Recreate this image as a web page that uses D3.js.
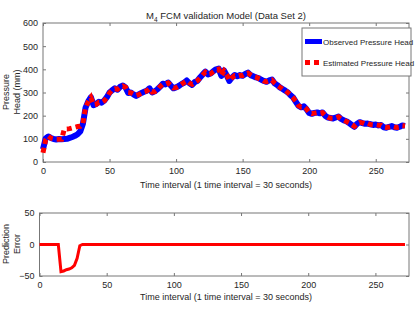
<!DOCTYPE html>
<html lang="en">
<head>
    <meta charset="UTF-8">
    <title>M4 FCM validation Model</title>
    <style>
        body { margin: 0; background: #fff; }
        svg text { font-family: 'Liberation Sans', Arial, sans-serif; fill: #262626; }
        .axis path { stroke: none; }
        .axis line { stroke: #777; }
        .axis text { font-size: 9px; fill: #262626; }
    </style>
</head>
<body>
<div id="chart"></div>
<script src="https://d3js.org/d3.v7.min.js"></script>
<script>
    // time steps (one sample every 2 intervals)
    const timeSteps = d3.range(0, 273, 2);

    // observed pressure head (mm)
    const observed = [
        55, 102, 110, 104, 99, 97, 99, 98, 99, 100,
        104, 108, 113, 120, 132, 165, 235, 262, 280, 245,
        250, 260, 256, 265, 280, 300, 310, 318, 312, 325,
        330, 322, 298, 300, 292, 285, 292, 298, 303, 308,
        318, 300, 305, 314, 325, 338, 335, 343, 330, 318,
        322, 328, 336, 342, 352, 340, 333, 345, 350, 365,
        378, 390, 378, 382, 392, 400, 403, 372, 395, 375,
        350, 365, 375, 370, 375, 372, 380, 386, 375, 370,
        365, 362, 355, 350, 346, 352, 356, 340, 332, 322,
        315, 308, 300, 288, 278, 260, 242, 236, 240, 228,
        212, 208, 212, 214, 210, 214, 200, 192, 190, 188,
        192, 196, 186, 180, 176, 168, 160, 152, 165, 172,
        168, 165, 166, 163, 160, 162, 158, 160, 150, 148,
        152, 155, 150, 148, 152, 158, 156
    ];

    // estimated pressure head (mm)
    const estimated = [
        40, 96, 112, 103, 100, 98, 98, 98, 142, 142,
        144, 147, 150, 153, 154, 167, 236, 260, 278, 247,
        249, 258, 257, 264, 279, 298, 311, 316, 314, 323,
        328, 323, 300, 299, 293, 287, 291, 297, 304, 307,
        316, 302, 304, 312, 326, 336, 336, 341, 331, 320,
        321, 327, 335, 343, 350, 341, 335, 344, 351, 363,
        376, 388, 379, 381, 390, 398, 401, 374, 393, 377,
        352, 364, 373, 371, 374, 373, 379, 384, 376, 369,
        366, 361, 356, 349, 347, 351, 354, 341, 331, 323,
        314, 309, 299, 289, 277, 262, 243, 237, 239, 229,
        213, 209, 211, 213, 211, 213, 201, 193, 189, 189,
        191, 195, 187, 181, 175, 169, 161, 154, 164, 171,
        169, 164, 167, 162, 161, 161, 159, 159, 151, 149,
        151, 154, 151, 149, 151, 157, 156
    ];

    // prediction error (observed - estimated)
    const predError = [
        0, 0, 0, 0, 0, 0, 0, 0, -43, -42,
        -40, -39, -37, -33, -22, -2, 0, 0, 0, 0,
        0, 0, 0, 0, 0, 0, 0, 0, 0, 0,
        0, 0, 0, 0, 0, 0, 0, 0, 0, 0,
        0, 0, 0, 0, 0, 0, 0, 0, 0, 0,
        0, 0, 0, 0, 0, 0, 0, 0, 0, 0,
        0, 0, 0, 0, 0, 0, 0, 0, 0, 0,
        0, 0, 0, 0, 0, 0, 0, 0, 0, 0,
        0, 0, 0, 0, 0, 0, 0, 0, 0, 0,
        0, 0, 0, 0, 0, 0, 0, 0, 0, 0,
        0, 0, 0, 0, 0, 0, 0, 0, 0, 0,
        0, 0, 0, 0, 0, 0, 0, 0, 0, 0,
        0, 0, 0, 0, 0, 0, 0, 0, 0, 0,
        0, 0, 0, 0, 0, 0, 0
    ];

    const xTicks = [0, 50, 100, 150, 200, 250];
    const topYTicks = [0, 100, 200, 300, 400, 500, 600];
    const bottomYTicks = [-50, 0, 50];
    const legendLabels = ["Observed Pressure Head", "Estimated Pressure Head"];

    const width = 415, height = 312;

    const svg = d3.select("#chart").append("svg")
        .attr("width", width)
        .attr("height", height);

    // top panel
    const x1 = d3.scaleLinear().domain([0, 275]).range([43, 409]);
    const y1 = d3.scaleLinear().domain([0, 600]).range([162, 23]);

    // bottom panel
    const x2 = d3.scaleLinear().domain([0, 275]).range([39.5, 409]);
    const y2 = d3.scaleLinear().domain([-50, 50]).range([276, 213]);

    function drawFrame(x, y, yTicks) {
        const [l, r] = x.range();
        const [b, t] = y.range();

        svg.append("g").attr("class", "axis")
            .attr("transform", `translate(0,${b})`)
            .call(d3.axisBottom(x).tickValues(xTicks).tickSize(-3).tickPadding(6));
        svg.append("g").attr("class", "axis")
            .attr("transform", `translate(0,${t})`)
            .call(d3.axisTop(x).tickValues(xTicks).tickSize(-3).tickFormat(""));
        svg.append("g").attr("class", "axis")
            .attr("transform", `translate(${l},0)`)
            .call(d3.axisLeft(y).tickValues(yTicks).tickSize(-3).tickPadding(5));
        svg.append("g").attr("class", "axis")
            .attr("transform", `translate(${r},0)`)
            .call(d3.axisRight(y).tickValues(yTicks).tickSize(-3).tickFormat(""));

        svg.append("rect")
            .attr("x", l).attr("y", t)
            .attr("width", r - l).attr("height", b - t)
            .attr("fill", "none")
            .attr("stroke", "#777")
            .attr("stroke-width", 1);
    }

    drawFrame(x1, y1, topYTicks);
    drawFrame(x2, y2, bottomYTicks);

    const line1 = d3.line()
        .x((d, i) => x1(timeSteps[i]))
        .y(d => y1(d));

    svg.append("path")
        .datum(observed)
        .attr("d", line1)
        .attr("fill", "none")
        .attr("stroke", "#0000ff")
        .attr("stroke-width", 6)
        .attr("stroke-linejoin", "round");

    svg.append("path")
        .datum(estimated)
        .attr("d", line1)
        .attr("fill", "none")
        .attr("stroke", "#ff0000")
        .attr("stroke-width", 5)
        .attr("stroke-dasharray", "5,4");

    const line2 = d3.line()
        .x((d, i) => x2(timeSteps[i]))
        .y(d => y2(d));

    svg.append("path")
        .datum(predError)
        .attr("d", line2)
        .attr("fill", "none")
        .attr("stroke", "#ff0000")
        .attr("stroke-width", 3);

    // title
    const title = svg.append("text")
        .attr("x", 226).attr("y", 19)
        .attr("text-anchor", "middle")
        .style("font-size", "9.5px");
    title.append("tspan").text("M");
    title.append("tspan").attr("dy", 3).style("font-size", "6.5px").text("4");
    title.append("tspan").attr("dy", -3).text(" FCM validation Model (Data Set 2)");

    // axis labels
    svg.append("text")
        .attr("x", 226).attr("y", 188)
        .attr("text-anchor", "middle")
        .style("font-size", "9px")
        .text("Time interval (1 time interval = 30 seconds)");
    svg.append("text")
        .attr("x", 226).attr("y", 300)
        .attr("text-anchor", "middle")
        .style("font-size", "9px")
        .text("Time interval (1 time interval = 30 seconds)");

    function yLabel(lines, cy) {
        const t = svg.append("text")
            .attr("transform", `translate(9,${cy}) rotate(-90)`)
            .attr("text-anchor", "middle")
            .style("font-size", "9px");
        lines.forEach((s, i) => {
            t.append("tspan").attr("x", 0).attr("dy", i === 0 ? 0 : 11).text(s);
        });
    }
    yLabel(["Pressure", "Head (mm)"], 92);
    yLabel(["Prediction", "Error"], 244);

    // legend
    const lg = svg.append("g");
    lg.append("rect")
        .attr("x", 302).attr("y", 28)
        .attr("width", 109).attr("height", 48)
        .attr("fill", "#fff")
        .attr("stroke", "#777");
    lg.append("line")
        .attr("x1", 305).attr("x2", 322).attr("y1", 41.5).attr("y2", 41.5)
        .attr("stroke", "#0000ff").attr("stroke-width", 5);
    lg.append("line")
        .attr("x1", 305).attr("x2", 322).attr("y1", 62.5).attr("y2", 62.5)
        .attr("stroke", "#ff0000").attr("stroke-width", 5)
        .attr("stroke-dasharray", "5,4");
    legendLabels.forEach((s, i) => {
        lg.append("text")
            .attr("x", 323).attr("y", 44.5 + i * 21)
            .style("font-size", "8px")
            .text(s);
    });
</script>
</body>
</html>
